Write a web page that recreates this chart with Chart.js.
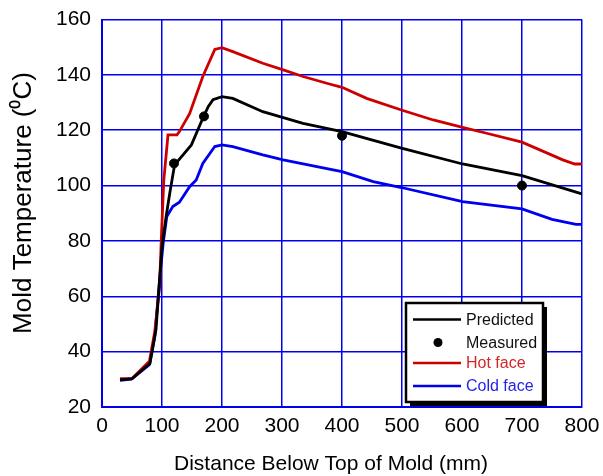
<!DOCTYPE html>
<html><head><meta charset="utf-8">
<script src="https://cdn.jsdelivr.net/npm/chart.js@4/dist/chart.umd.min.js"></script>
<style>html,body{margin:0;padding:0;background:#fff;}#wrap{width:603px;height:476px;}</style>
</head><body><div id="wrap"><canvas id="c" width="603" height="476"></canvas></div>
<script>
const xTicks = [0,100,200,300,400,500,600,700,800];
const yTicks = [20,40,60,80,100,120,140,160];
const xTitle = 'Distance Below Top of Mold (mm)';
const yTitle = 'Mold Temperature (\u2070C)';

const predX = [30, 50, 80, 90, 100, 107, 113, 121, 149, 168, 177, 185, 200, 218, 268, 335, 400, 499, 601, 700, 797, 800];
const predY = [29.8, 30.2, 35.8, 48, 78, 89, 97.3, 107.5, 114.7, 124.3, 128.5, 131, 132.1, 131.5, 126.7, 122.5, 119.5, 113.5, 107.8, 103.6, 97.2, 97];

const measX = [120, 170, 400, 700];
const measY = [108, 125, 118, 100];

const hotX = [30, 50, 79, 88, 96, 99, 103, 110, 125, 129, 146, 168, 188, 200, 218, 268, 302, 335, 379, 400, 441, 499, 552, 601, 641, 700, 768, 788, 800];
const hotY = [30.2, 30.3, 36.5, 47.3, 63.5, 81.6, 102, 118.3, 118.3, 119.5, 126, 139.4, 149.2, 149.8, 148.4, 144.2, 141.8, 139.4, 136.7, 135.5, 131.5, 127.3, 123.7, 121, 118.9, 115.7, 109.3, 107.8, 107.8];

const coldX = [30, 49, 79, 88, 96, 102, 108, 118, 129, 146, 157, 168, 188, 200, 218, 268, 302, 379, 400, 452, 499, 601, 700, 750, 790, 800];
const coldY = [29.6, 30.1, 35.3, 45.5, 66, 79.2, 88.8, 92.4, 94, 99.6, 102, 108, 114.1, 114.7, 114.1, 111.1, 109.3, 105.9, 105, 101.4, 99.3, 94.2, 91.6, 87.8, 86, 86];

const seriesNames = ['Predicted', 'Measured', 'Hot face', 'Cold face'];

const pts = (xs, ys) => xs.map((x, i) => ({x: x, y: ys[i]}));
const FONT = "'Liberation Sans', Arial, sans-serif";

const titlesPlugin = {
  id: 'axisTitles',
  afterDraw(chart) {
    const ctx = chart.ctx;
    ctx.save();
    ctx.fillStyle = '#000';
    ctx.textAlign = 'center';
    ctx.textBaseline = 'middle';
    ctx.font = "21px " + FONT;
    ctx.fillText(xTitle, 331, 464);
    ctx.translate(24, 203);
    ctx.rotate(-Math.PI / 2);
    ctx.font = "26px " + FONT;
    ctx.fillText(yTitle, 0, 0);
    ctx.restore();
  }
};

const legendPlugin = {
  id: 'boxLegend',
  afterDraw(chart) {
    const ctx = chart.ctx;
    const bx = 406, by = 303, bw = 137, bh = 99, sh = 4;
    ctx.save();
    ctx.fillStyle = '#000';
    ctx.fillRect(bx + sh, by + sh, bw, bh);
    ctx.fillStyle = '#fff';
    ctx.fillRect(bx, by, bw, bh);
    ctx.lineWidth = 2.5;
    ctx.strokeStyle = '#000';
    ctx.strokeRect(bx, by, bw, bh);
    const rows = [
      {type:'line', color:'#000000', text: seriesNames[0], tc:'#111111', y:319.5},
      {type:'dot', color:'#000000', text: seriesNames[1], tc:'#111111', y:342.5},
      {type:'line', color:'#cc0000', text: seriesNames[2], tc:'#d02828', y:363},
      {type:'line', color:'#0000ee', text: seriesNames[3], tc:'#2424e8', y:386}
    ];
    ctx.font = "16px " + FONT;
    ctx.textBaseline = 'middle';
    ctx.textAlign = 'left';
    rows.forEach(r => {
      if (r.type === 'line') {
        ctx.strokeStyle = r.color;
        ctx.lineWidth = 2.5;
        ctx.beginPath();
        ctx.moveTo(413, r.y);
        ctx.lineTo(461, r.y);
        ctx.stroke();
      } else {
        ctx.fillStyle = r.color;
        ctx.beginPath();
        ctx.arc(438, r.y, 4.5, 0, Math.PI * 2);
        ctx.fill();
      }
      ctx.fillStyle = r.tc;
      ctx.fillText(r.text, 466, r.y + 1);
    });
    ctx.restore();
  }
};

new Chart(document.getElementById('c'), {
  type: 'scatter',
  data: {
    datasets: [
      {label: seriesNames[3], data: pts(coldX, coldY), showLine: true, borderColor: '#0000ee', borderWidth: 2.8, pointRadius: 0, tension: 0, order: 4},
      {label: seriesNames[2], data: pts(hotX, hotY), showLine: true, borderColor: '#cc0000', borderWidth: 2.8, pointRadius: 0, tension: 0, order: 3},
      {label: seriesNames[0], data: pts(predX, predY), showLine: true, borderColor: '#000000', borderWidth: 2.8, pointRadius: 0, tension: 0, order: 2},
      {label: seriesNames[1], data: pts(measX, measY), showLine: false, backgroundColor: '#000', borderColor: '#000', pointRadius: 4.5, order: 1}
    ]
  },
  options: {
    responsive: false,
    animation: false,
    devicePixelRatio: 1,
    layout: {padding: {top: 19.5, right: 21, left: 0, bottom: 0}},
    plugins: {legend: {display: false}, tooltip: {enabled: false}},
    scales: {
      x: {
        type: 'linear', min: 0, max: 800,
        afterBuildTicks: s => { s.ticks = xTicks.map(v => ({value: v})); },
        afterFit: s => { s.height = 69; s.paddingLeft = 0; s.paddingRight = 0; },
        grid: {color: '#0000ee', lineWidth: 1.5, drawTicks: false},
        border: {color: '#0000ee', width: 2},
        ticks: {color: '#000', padding: 7, font: {family: FONT, size: 21}, maxRotation: 0},
        title: {display: false}
      },
      y: {
        type: 'linear', min: 20, max: 160,
        afterBuildTicks: s => { s.ticks = yTicks.map(v => ({value: v})); },
        afterFit: s => { s.width = 102; s.paddingTop = 0; s.paddingBottom = 0; },
        grid: {color: '#0000ee', lineWidth: 1.5, drawTicks: false},
        border: {color: '#0000ee', width: 2},
        ticks: {color: '#000', padding: 11, font: {family: FONT, size: 21}},
        title: {display: false}
      }
    }
  },
  plugins: [legendPlugin, titlesPlugin]
});
</script></body></html>
